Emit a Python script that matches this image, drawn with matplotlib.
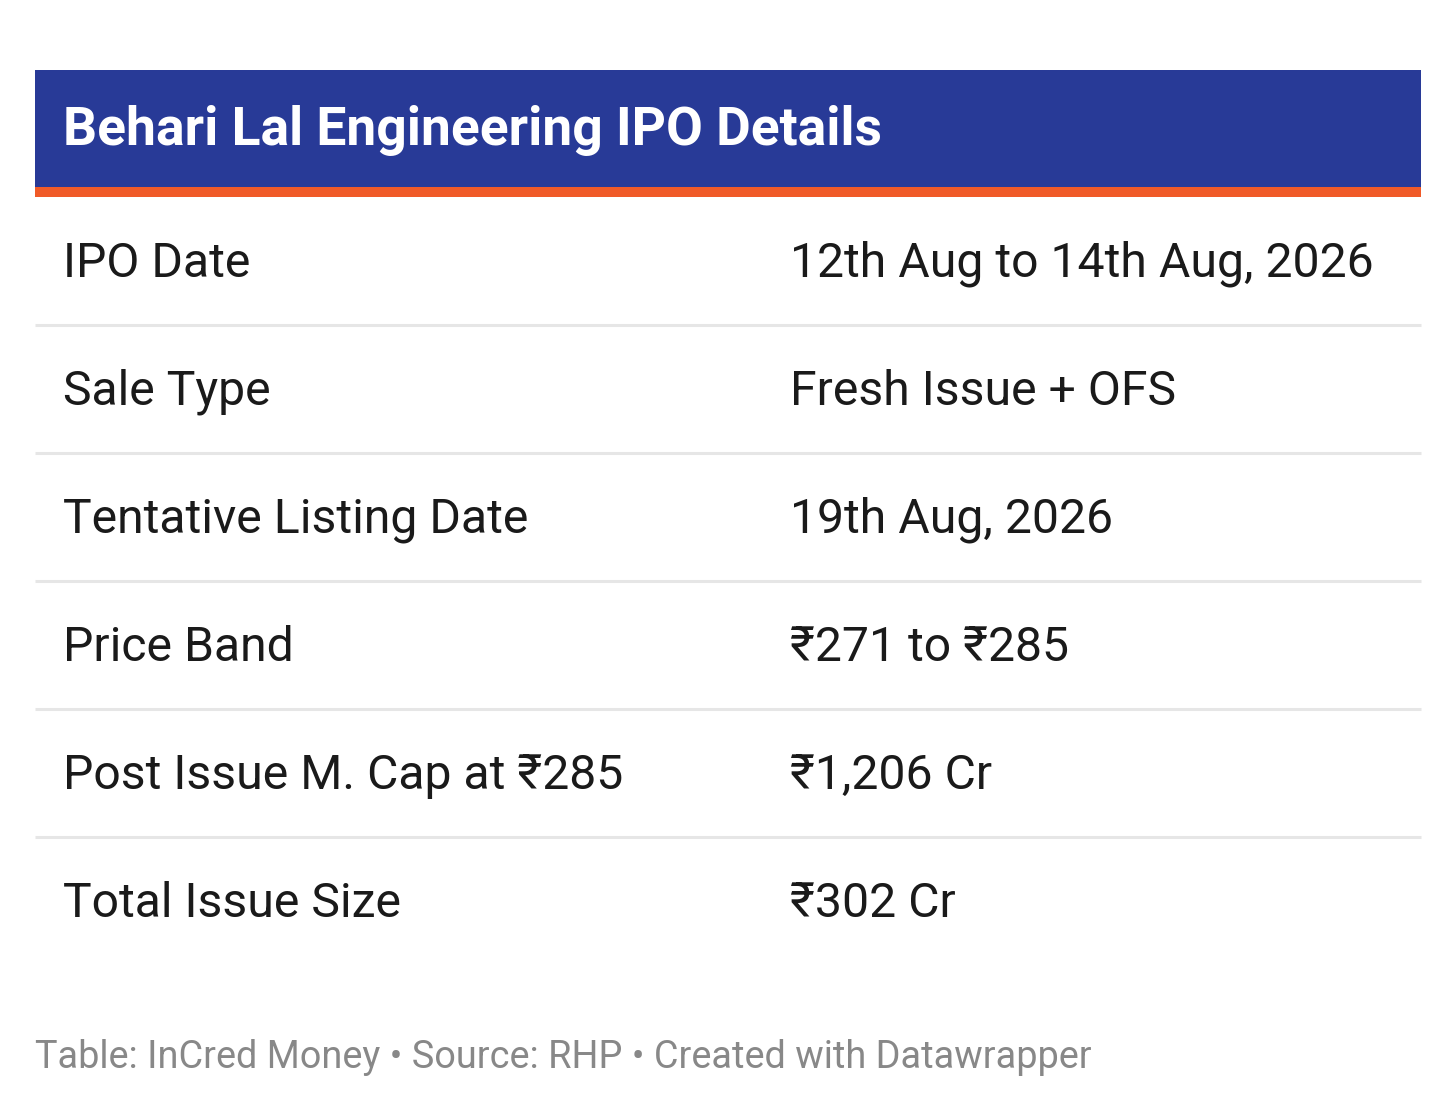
import matplotlib
matplotlib.use('Agg')
import matplotlib.pyplot as plt
from matplotlib.patches import Rectangle

# --- table content ---
title = 'Behari Lal Engineering IPO Details'
labels = ['IPO Date', 'Sale Type', 'Tentative Listing Date', 'Price Band',
          'Post Issue M. Cap at ₹285', 'Total Issue Size']
values = ['12th Aug to 14th Aug, 2026', 'Fresh Issue + OFS', '19th Aug, 2026',
          '₹271 to ₹285', '₹1,206 Cr', '₹302 Cr']
footer = 'Table: InCred Money • Source: RHP • Created with Datawrapper'

W, H = 1456, 1113
fonts = ['Roboto', 'DejaVu Sans']

fig = plt.figure(figsize=(W / 100, H / 100), dpi=100)
ax = fig.add_axes([0, 0, 1, 1])
ax.set_xlim(0, W)
ax.set_ylim(H, 0)
ax.axis('off')

left, right = 35, 1421
# header band
ax.add_patch(Rectangle((left, 70), right - left, 118, color='#283a97', lw=0))
ax.add_patch(Rectangle((left, 187), right - left, 10, color='#f05a28', lw=0))
ax.text(63, 131, title, color='white', fontsize=38.4, fontweight='bold',
        family=fonts, va='center', ha='left')

row_h = 128
top = 197
for i, (lab, val) in enumerate(zip(labels, values)):
    yc = top + row_h * i + 67
    ax.text(63, yc, lab, fontsize=34.7, color='#1a1a1a', family=fonts,
            va='center', ha='left')
    ax.text(790, yc, val, fontsize=34.7, color='#1a1a1a', family=fonts,
            va='center', ha='left')
    if i < len(labels) - 1:
        ysep = top + row_h * (i + 1)
        ax.plot([left, right], [ysep, ysep], color='#e6e6e6', lw=2.2,
                solid_capstyle='butt')

ax.text(35, 1057, footer, fontsize=27.3, color='#888888', family=fonts,
        va='center', ha='left')

fig.savefig('out.png', dpi=100, facecolor='white')
